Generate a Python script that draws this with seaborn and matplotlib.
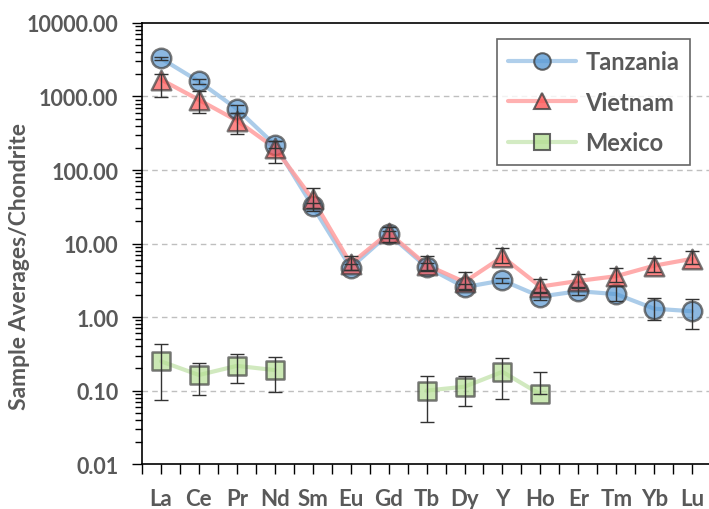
import numpy as np
import pandas as pd
import matplotlib
matplotlib.use("Agg")
import matplotlib.pyplot as plt
from matplotlib.lines import Line2D
import seaborn as sns

elements = ["La", "Ce", "Pr", "Nd", "Sm", "Eu", "Gd", "Tb", "Dy", "Y", "Ho", "Er", "Tm", "Yb", "Lu"]

tanzania = [3300, 1600, 680, 220, 32, 4.7, 13.5, 4.8, 2.55, 3.15, 1.9, 2.25, 2.05, 1.3, 1.2]
tanzania_lo = [3150, 1480, 600, 200, 28, 4.3, 12.0, 4.4, 2.30, 2.90, 1.7, 2.00, 1.67, 0.91, 0.69]
tanzania_hi = [3450, 1720, 760, 250, 36, 5.3, 15.0, 5.4, 2.80, 3.40, 2.1, 2.50, 2.64, 1.80, 1.76]

vietnam = [1700, 900, 470, 200, 40, 5.3, 14.0, 5.1, 3.0, 6.6, 2.6, 3.1, 3.6, 5.0, 6.2]
vietnam_lo = [970, 600, 310, 125, 30, 4.4, 10.5, 4.2, 2.4, 5.5, 2.2, 2.6, 3.0, 4.1, 5.2]
vietnam_hi = [2000, 1200, 600, 250, 57, 6.8, 17.0, 6.7, 4.1, 8.7, 3.3, 3.85, 4.6, 6.3, 8.0]

mexico = [0.25, 0.163, 0.217, 0.19, np.nan, np.nan, np.nan, 0.10, 0.113, 0.18, 0.089, np.nan, np.nan, np.nan, np.nan]
mexico_lo = [0.074, 0.087, 0.125, 0.096, np.nan, np.nan, np.nan, 0.037, 0.062, 0.078, 0.089, np.nan, np.nan, np.nan, np.nan]
mexico_hi = [0.43, 0.24, 0.31, 0.29, np.nan, np.nan, np.nan, 0.16, 0.16, 0.28, 0.18, np.nan, np.nan, np.nan, np.nan]

yticks = [0.01, 0.1, 1, 10, 100, 1000, 10000]
ytick_labels = ["0.01", "0.10", "1.00", "10.00", "100.00", "1000.00", "10000.00"]

sns.set_theme(style="white")
plt.rcParams["font.family"] = ["Lato", "DejaVu Sans"]

TXT = "#595959"
fig = plt.figure(figsize=(7.09, 5.10), dpi=100)
ax = fig.add_axes([0.2003, 0.088, 0.8027, 0.865])
ax.set_yscale("log")

xpos = np.arange(len(elements))

series = [
    ("Tanzania", tanzania, tanzania_lo, tanzania_hi, "#9DC3E6", "#5B9BD5", "o", 14, 3),
    ("Vietnam", vietnam, vietnam_lo, vietnam_hi, "#FF9E9E", "#FF5555", "^", 14, 4),
    ("Mexico", mexico, mexico_lo, mexico_hi, "#C9E6B4", "#B5DF94", "s", 13, 3),
]

handles = []
for name, vals, lo, hi, lc, mc, mk, ms, z in series:
    vals = np.array(vals, dtype=float)
    lo = np.array(lo, dtype=float)
    hi = np.array(hi, dtype=float)
    df = pd.DataFrame({"x": xpos, "y": vals})
    df["seg"] = np.cumsum(np.isnan(vals))
    d = df.dropna()
    for s, g in d.groupby("seg"):
        sns.lineplot(data=g, x="x", y="y", ax=ax, color=lc, lw=3, alpha=0.85,
                     zorder=1, legend=False, estimator=None, sort=False)
    sns.scatterplot(data=d, x="x", y="y", ax=ax, marker=mk, s=ms ** 2,
                    color=mc, alpha=0.7, edgecolor="#404040", linewidth=1.8,
                    zorder=z, legend=False)
    m = ~np.isnan(vals)
    ax.errorbar(xpos[m], vals[m], yerr=[vals[m] - lo[m], hi[m] - vals[m]],
                fmt="none", ecolor="#333333", elinewidth=1.0, capsize=5,
                capthick=1.0, zorder=6)
    handles.append(Line2D([0], [0], color=lc, lw=3, marker=mk, markersize=ms * 0.85,
                          markerfacecolor=mc, markeredgecolor="#404040",
                          markeredgewidth=1.5, alpha=0.8, label=name))

ax.set_xlim(-0.5, len(elements) - 0.5)
ax.set_ylim(0.01, 10000)
ax.set_xticks(xpos)
ax.set_xticklabels(elements)
ax.set_xticks(np.arange(-0.5, len(elements), 1.0), minor=True)
ax.set_yticks(yticks)
ax.set_yticklabels(ytick_labels)
ax.yaxis.set_minor_locator(matplotlib.ticker.LogLocator(base=10, subs=np.arange(2, 10)))
ax.yaxis.set_minor_formatter(matplotlib.ticker.NullFormatter())

ax.tick_params(axis="x", which="both", direction="out", length=7, width=1, color="black",
               bottom=True, labelsize=16, labelcolor=TXT, pad=10)
ax.tick_params(axis="y", which="major", direction="out", length=7, width=1, color="black",
               left=True, labelsize=15.5, labelcolor=TXT, pad=10)
ax.tick_params(axis="y", which="minor", direction="out", length=5, width=1, color="black", left=True)
for lab in ax.get_xticklabels() + ax.get_yticklabels():
    lab.set_fontweight("bold")

for y in yticks[1:-1]:
    ax.axhline(y, color="#BFBFBF", lw=1, ls=(0, (4, 3)), zorder=0)

for sp in ["left", "bottom", "top"]:
    ax.spines[sp].set_color("black")
    ax.spines[sp].set_linewidth(1.2)
ax.spines["right"].set_visible(False)

ax.set_xlabel("")
ax.set_ylabel("")
fig.text(20 / 709, 1 - 266 / 510, "Sample Averages/Chondrite", rotation=90,
         ha="center", va="center", fontsize=16.5, fontweight="bold", color=TXT)

leg = ax.legend(handles=handles, loc="upper right", bbox_to_anchor=(0.963, 0.963),
                borderaxespad=0, frameon=True, fancybox=False, edgecolor="#404040",
                fontsize=17, handlelength=2.9, labelspacing=0.75, borderpad=0.45,
                handletextpad=0.4)
leg.get_frame().set_linewidth(1.2)
for t in leg.get_texts():
    t.set_color(TXT)
    t.set_fontweight("bold")

fig.savefig("out.png", dpi=100)
